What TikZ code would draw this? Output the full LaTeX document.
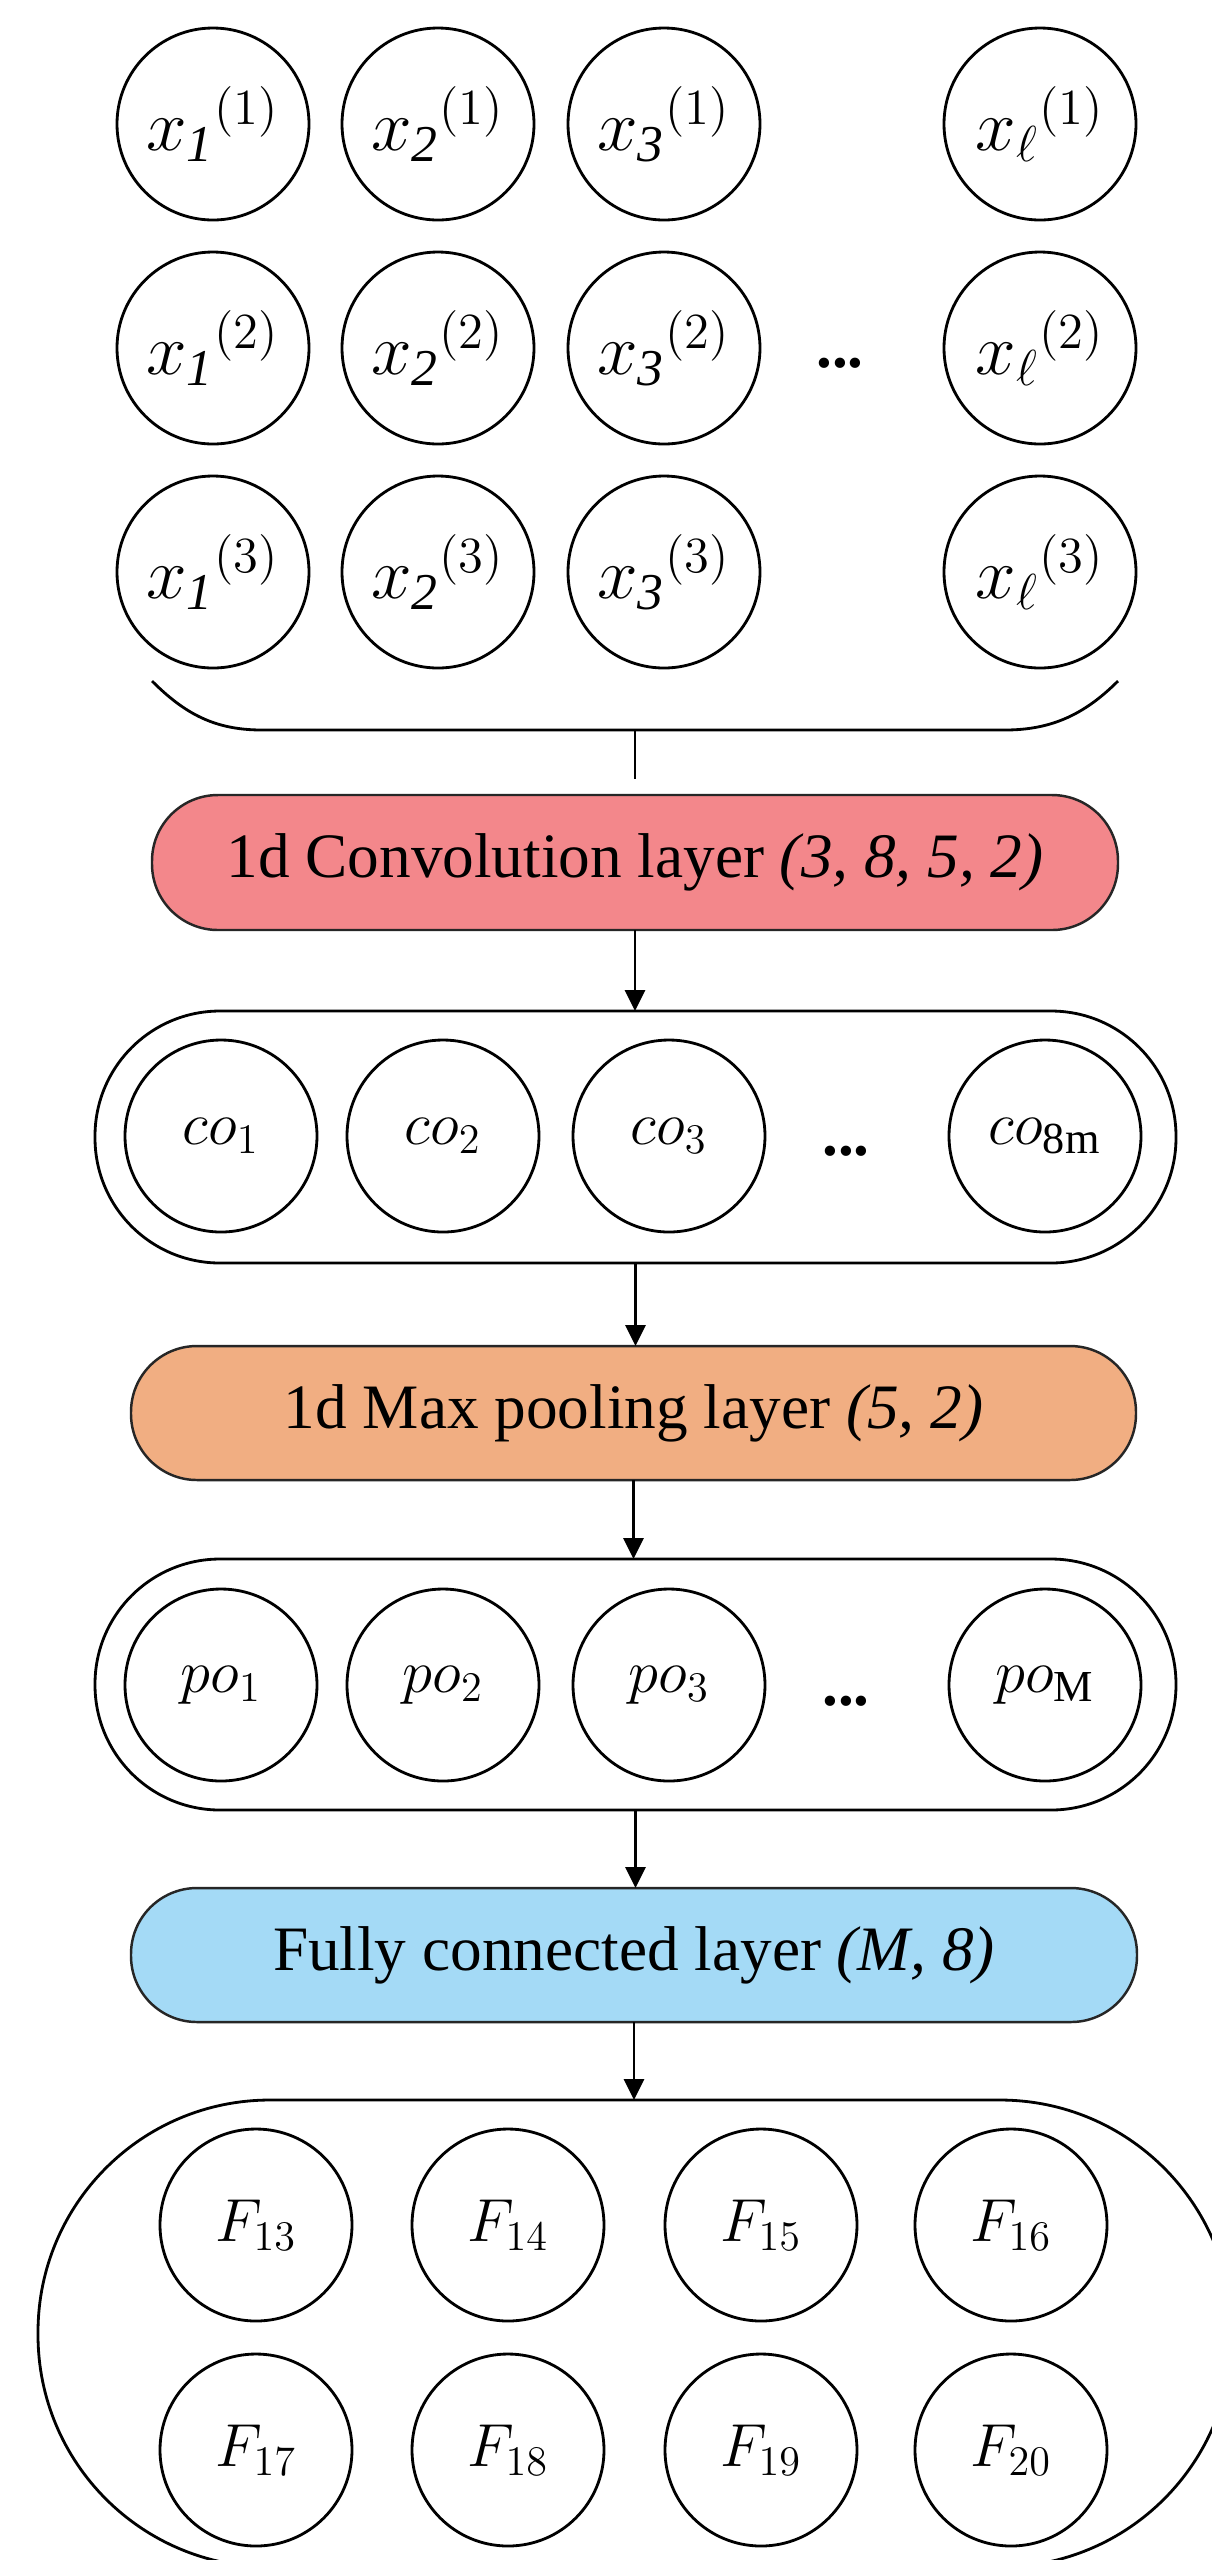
\documentclass[tikz,border=0pt]{standalone}
\usepackage{fontspec}
\setmainfont{Liberation Serif}
\usetikzlibrary{arrows.meta}
\definecolor{convred}{RGB}{243,135,139}
\definecolor{poolorange}{RGB}{241,174,130}
\definecolor{fcblue}{RGB}{164,218,246}
\begin{document}
\begin{tikzpicture}[x=0.1mm,y=-0.1mm,
  every node/.style={inner sep=0pt, outer sep=0pt},
  unit/.style={circle, draw, line width=0.8pt, minimum size=19.2mm, font=\fontsize{21}{24}\selectfont},
  funit/.style={unit, font=\fontsize{18}{22}\selectfont},
  layerbox/.style={rectangle, draw=black!85, line width=0.7pt, rounded corners=6.6mm, minimum height=13.4mm, font=\fontsize{18}{22}\selectfont},
  group/.style={rectangle, draw, line width=0.8pt},
  flow/.style={-{Triangle[width=2mm,length=2.1mm]}, line width=0.8pt},
  dotsnode/.style={font=\fontsize{18}{22}\selectfont\bfseries}
]
\useasboundingbox (0,0) rectangle (1212,2560);
\clip (0,0) rectangle (1212,2560);
\fill[white] (0,0) rectangle (1212,2560);

% input units
\foreach \r/\y in {1/124,2/348,3/572} {
  \node[unit] (xa\r) at (213,\y) {${x_{\mathit{1}}}^{(\r)}$};
  \node[unit] (xb\r) at (438,\y) {${x_{\mathit{2}}}^{(\r)}$};
  \node[unit] (xc\r) at (664,\y) {${x_{\mathit{3}}}^{(\r)}$};
  \node[unit] (xl\r) at (1040,\y) {${x_{\ell}}^{(\r)}$};
}
\node[dotsnode] (xdots) at (840,363) {...};

% brace under inputs
\coordinate (braceL) at (152,681);
\coordinate (braceR) at (1118,681);
\coordinate (bmid) at (635,730);
\coordinate (stemend) at (635,779);
\draw[line width=0.8pt] (braceL) .. controls (185,714) and (215,730) .. (262,730)
  -- (1005,730) .. controls (1052,730) and (1085,714) .. (braceR);
\draw[line width=0.8pt] (bmid) -- (stemend);

% convolution layer
\node[layerbox, fill=convred, minimum width=96.6mm, minimum height=13.5mm] (conv) at (635,862.5)
  {1d Convolution layer \textit{(3, 8, 5, 2)}};

% conv outputs
\node[group, rounded corners=12.5mm, minimum width=108.1mm, minimum height=25.2mm] (cogrp) at (635.5,1137) {};
\node[funit] (co1) at (221,1136) {$co_1$};
\node[funit] (co2) at (443,1136) {$co_2$};
\node[funit] (co3) at (669,1136) {$co_3$};
\node[funit] (com) at (1045,1136) {$co_{\mathrm{8m}}$};
\node[dotsnode] (codots) at (846,1151) {...};

% max pooling
\node[layerbox, fill=poolorange, minimum width=100.5mm] (pool) at (633.5,1413)
  {1d Max pooling layer \textit{(5, 2)}};

% pooling outputs
\node[group, rounded corners=12.5mm, minimum width=108.1mm, minimum height=25.1mm] (pogrp) at (635.5,1684.5) {};
\node[funit] (po1) at (221,1685) {$po_1$};
\node[funit] (po2) at (443,1685) {$po_2$};
\node[funit] (po3) at (669,1685) {$po_3$};
\node[funit] (pom) at (1045,1685) {$po_{\mathrm{M}}$};
\node[dotsnode] (podots) at (846,1701) {...};

% fully connected
\node[layerbox, fill=fcblue, minimum width=100.6mm] (fc) at (634,1955)
  {Fully connected layer \textit{(M, 8)}};

% outputs
\node[group, rounded corners=23.2mm, minimum width=119.4mm, minimum height=46.7mm] (fgrp) at (635,2333.5) {};
\node[funit] (f13) at (256,2225) {$F_{13}$};
\node[funit] (f14) at (508,2225) {$F_{14}$};
\node[funit] (f15) at (761,2225) {$F_{15}$};
\node[funit] (f16) at (1011,2225) {$F_{16}$};
\node[funit] (f17) at (256,2450) {$F_{17}$};
\node[funit] (f18) at (508,2450) {$F_{18}$};
\node[funit] (f19) at (761,2450) {$F_{19}$};
\node[funit] (f20) at (1011,2450) {$F_{20}$};

% arrows
\draw[flow] (conv.south) -- (conv.south |- cogrp.north);
\draw[flow] (cogrp.south) -- (cogrp.south |- pool.north);
\draw[flow] (pool.south) -- (pool.south |- pogrp.north);
\draw[flow] (pogrp.south) -- (pogrp.south |- fc.north);
\draw[flow] (fc.south) -- (fc.south |- fgrp.north);
\end{tikzpicture}
\end{document}
